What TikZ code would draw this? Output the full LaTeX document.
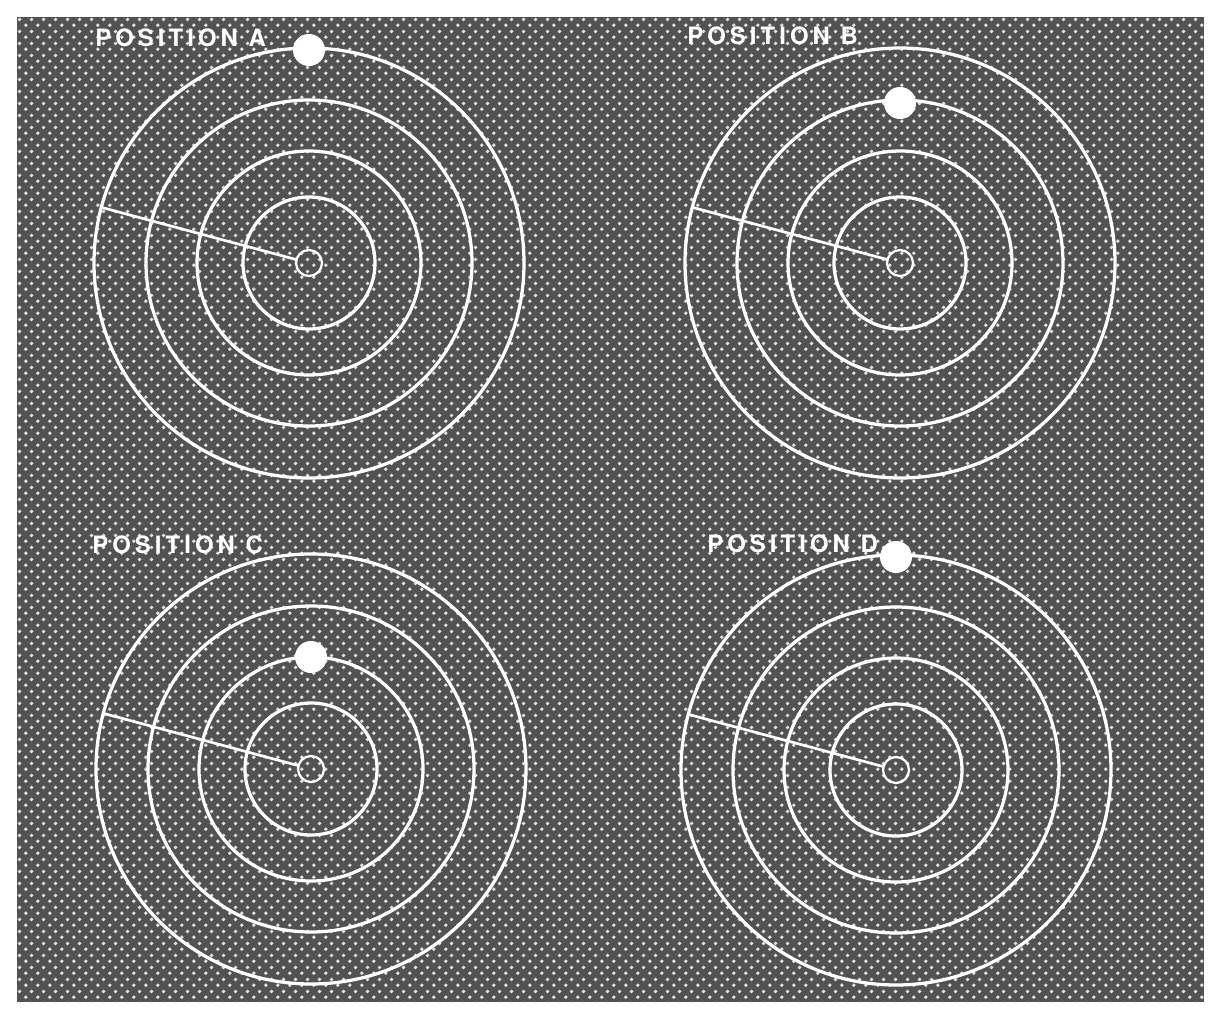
\documentclass[tikz,border=0pt]{standalone}
\usepackage{fontspec}
\newfontfamily\posfont[LetterSpace=17]{TeX Gyre Heros}
\usetikzlibrary{patterns.meta}
\tikzdeclarepattern{
  name=halftone,
  type=uncolored,
  bounding box={(0pt,0pt) and (8.3pt,8.3pt)},
  tile size={(8.3pt,8.3pt)},
  code={
    \fill (2.075pt,2.075pt) circle (1.45pt);
    \fill (6.225pt,6.225pt) circle (1.45pt);
  }
}
\tikzset{
  ring/.style={draw=white, line width=2.3pt},
  hub/.style={draw=white, line width=1.6pt},
  spoke/.style={draw=white, line width=1.9pt},
  dotmark/.style={shape=circle, fill=white, inner sep=0pt, minimum size=0.8cm},
  poslabel/.style={anchor=base west, inner sep=0pt, text=white, font=\posfont\bfseries\fontsize{17}{20}\selectfont}
}
\begin{document}
\begin{tikzpicture}[x=0.025cm, y=-0.025cm]
  \useasboundingbox (0,0) rectangle (1224,1012);
  \fill[white] (0,0) rectangle (1224,1012);
  % screened backdrop
  \fill[black!68] (17,17) rectangle (1204,1002);
  \fill[pattern=halftone, pattern color=white!88!black] (17,17) rectangle (1204,1002);
  % the four positions
  \foreach \cx/\cy/\dr/\lx/\ly/\txt in {309/263/213/95/47/A, 900/263/160/687/45/B,
                                         311/769/112/92/553/C, 896/770/213/707/552/D}{
    \begin{scope}[shift={(\cx,\cy)}]
      \draw[hub] (0,0) circle (13);
      \foreach \r in {66,112,163,215}
        \draw[ring] (0,0) circle (\r);
      \draw[spoke] (195:13) -- (195:215);
      \node[dotmark] (dot\txt) at (0,-\dr) {};
    \end{scope}
    \node[poslabel] (lbl\txt) at (\lx,\ly) {POSITION \txt};
  }
\end{tikzpicture}
\end{document}
